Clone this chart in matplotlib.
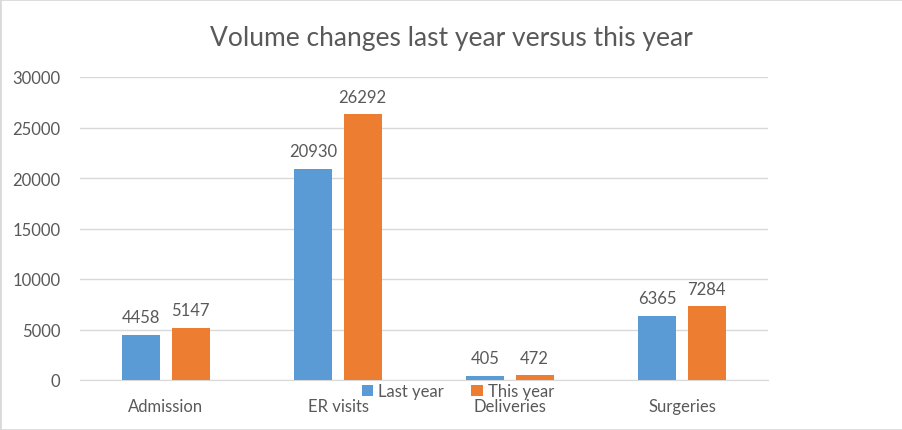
import numpy as np
import matplotlib
matplotlib.use("Agg")
import matplotlib.pyplot as plt
from matplotlib.patches import Rectangle

categories = ["Admission", "ER visits", "Deliveries", "Surgeries"]
last_year = [4458, 20930, 405, 6365]
this_year = [5147, 26292, 472, 7284]
yticks = [0, 5000, 10000, 15000, 20000, 25000, 30000]

plt.rcParams['font.family'] = ['Lato', 'DejaVu Sans']
text_color = '#595959'
blue = '#5B9BD5'
orange = '#ED7D31'

fig = plt.figure(figsize=(9.03, 4.31), dpi=100)
ax = fig.add_axes([80/903, 50/431, 688/903, 303/431])

x = np.arange(len(categories))
w = 0.221
off = 0.143
b1 = ax.bar(x - off, last_year, w, color=blue, label='Last year', zorder=3)
b2 = ax.bar(x + off, this_year, w, color=orange, label='This year', zorder=3)

for bars in (b1, b2):
    for rect in bars:
        h = rect.get_height()
        ax.annotate(str(int(h)), (rect.get_x() + rect.get_width()/2, h),
                    xytext=(0, 7), textcoords='offset points',
                    ha='center', va='bottom', fontsize=12, color=text_color)

ax.set_xlim(-0.5, 3.5)
ax.set_ylim(0, 30000)
ax.set_yticks(yticks)
ax.set_yticklabels([str(v) for v in yticks])
ax.set_xticks(x)
ax.set_xticklabels(categories)
ax.tick_params(axis='both', length=0, labelsize=12, colors=text_color)
ax.tick_params(axis='y', pad=14)
ax.tick_params(axis='x', pad=13)
ax.yaxis.grid(True, color='#D9D9D9', linewidth=1, zorder=0)
for s in ['top', 'right', 'left']:
    ax.spines[s].set_visible(False)
ax.spines['bottom'].set_color('#D9D9D9')

fig.suptitle('Volume changes last year versus this year', y=0.94,
             fontsize=19, color=text_color)

leg = fig.legend(loc='center', bbox_to_anchor=(0.507, 0.09), ncol=2,
                 frameon=False, fontsize=12, handlelength=0.7, handleheight=0.7,
                 handletextpad=0.3, columnspacing=1.6)
for t in leg.get_texts():
    t.set_color(text_color)

fig.patches.append(Rectangle((0, 0), 1, 1, transform=fig.transFigure,
                             fill=False, edgecolor='#D9D9D9', linewidth=2))

fig.savefig('out.png', dpi=100)
